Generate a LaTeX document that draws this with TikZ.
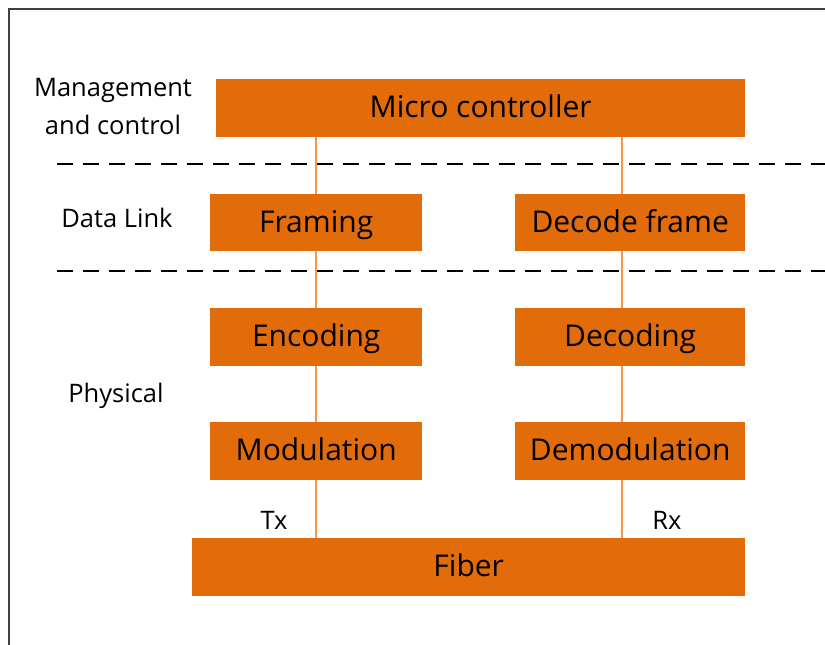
\documentclass[tikz,border=0pt]{standalone}
\usepackage{fontspec}
\setmainfont{Open Sans}
\definecolor{boxor}{RGB}{227,108,10}
\definecolor{lineor}{RGB}{247,150,70}
\begin{document}
\begin{tikzpicture}[x=1pt,y=-1pt,
  blk/.style={draw=none,fill=boxor,inner sep=0pt,anchor=north west,font=\fontsize{30}{34}\selectfont,text=black,text height=22pt,text depth=3pt},
  lbl/.style={font=\fontsize{25.5}{38}\selectfont,text=black,align=center},
  conn/.style={draw=lineor,line width=2.2pt},
  sep/.style={draw=black,line width=2.4pt,dash pattern=on 16pt off 10pt}]
\useasboundingbox (0,0) rectangle (825,645);
\draw[line width=1.3pt,color=black!75] (9,645) -- (9,9) -- (825,9);
% boxes
\node[blk,minimum width=529pt,minimum height=58pt] (mc) at (216,79) {Micro controller};
\node[blk,minimum width=212pt,minimum height=57pt] (fr) at (210,194) {Framing};
\node[blk,minimum width=230pt,minimum height=57pt] (df) at (515,194) {Decode frame};
\node[blk,minimum width=212pt,minimum height=58pt] (en) at (210,308) {Encoding};
\node[blk,minimum width=230pt,minimum height=58pt] (de) at (515,308) {Decoding};
\node[blk,minimum width=212pt,minimum height=58pt] (mo) at (210,422) {Modulation};
\node[blk,minimum width=230pt,minimum height=58pt] (dm) at (515,422) {Demodulation};
\node[blk,minimum width=553pt,minimum height=58pt] (fi) at (192,538) {Fiber};
% connectors
\coordinate (l1) at (316,137); \coordinate (r1) at (622,137);
\path[conn] (l1) -- (l1 |- fr.north);
\path[conn] (r1) -- (r1 |- df.north);
\path[conn] (l1 |- fr.south) -- (l1 |- en.north);
\path[conn] (r1 |- df.south) -- (r1 |- de.north);
\path[conn] (l1 |- en.south) -- (l1 |- mo.north);
\path[conn] (r1 |- de.south) -- (r1 |- dm.north);
\path[conn] (l1 |- mo.south) -- (l1 |- fi.north);
\path[conn] (r1 |- dm.south) -- (r1 |- fi.north);
% separators
\coordinate (s1a) at (57,164); \coordinate (s1b) at (825,164);
\coordinate (s2a) at (57,271); \coordinate (s2b) at (825,271);
\path[sep] (s1a) -- (s1b);
\path[sep] (s2a) -- (s2b);
% labels
\node[lbl] (mgmt) at (113,107) {Management\\and control};
\node[lbl] (dl) at (117,218) {Data Link};
\node[lbl] (ph) at (116,396) {Physical};
\node[lbl] (tx) at (274,520) {Tx};
\node[lbl] (rx) at (667,520) {Rx};
\end{tikzpicture}
\end{document}
